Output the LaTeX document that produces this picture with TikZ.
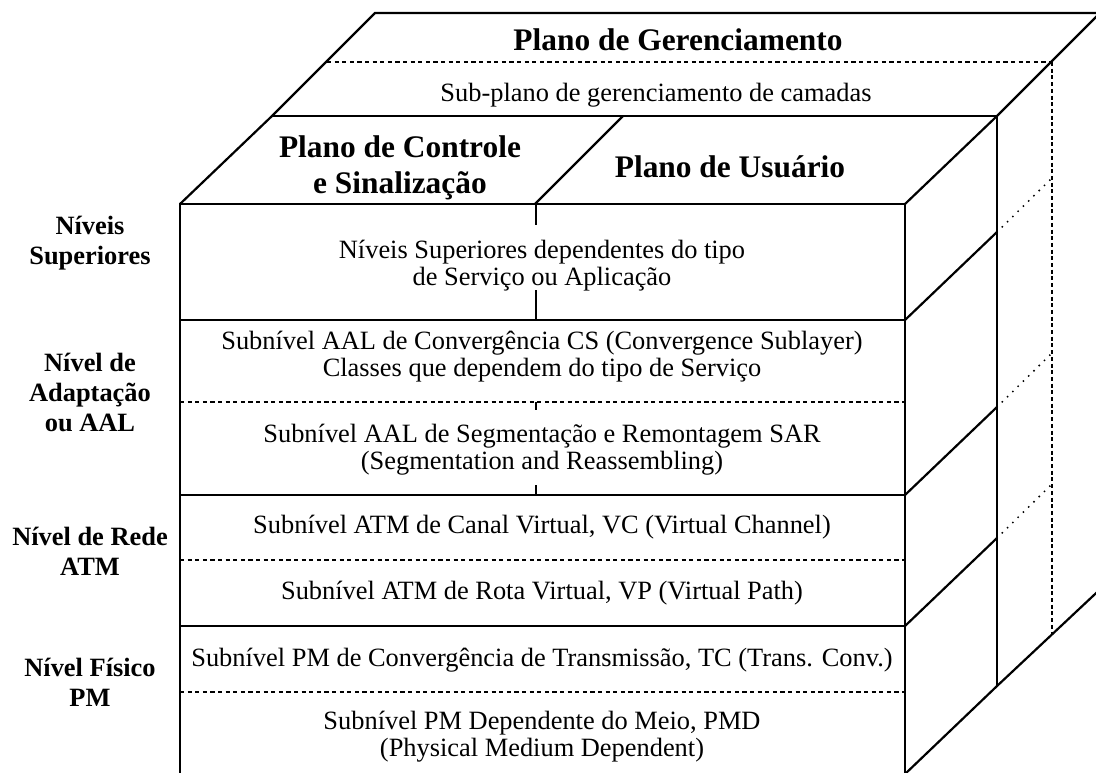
\documentclass[tikz,border=0pt]{standalone}
\usepackage{fontspec}
\setmainfont{Liberation Serif}
\begin{document}
\begin{tikzpicture}[x=0.5pt,y=-0.5pt,
  edge/.style={line width=1.1pt},
  sublayer/.style={line width=0.65pt,dash pattern=on 2.1pt off 1.7pt},
  plane/.style={line width=0.85pt,dash pattern=on 2pt off 1.35pt},
  hidden/.style={line width=1.05pt,line cap=round,dash pattern=on 0pt off 3.7pt},
  title/.style={font=\fontsize{15.7}{18}\selectfont\bfseries,align=center,inner sep=0pt},
  level/.style={font=\fontsize{13.2}{15}\selectfont\bfseries,align=center,inner sep=0pt},
  lab/.style={font=\fontsize{13.2}{13.5}\selectfont,align=center,inner sep=0pt}]
\useasboundingbox (0,0) rectangle (1096,772);
\begin{scope}
\clip (0,0) rectangle (1096,772);
% front face
\draw[edge] (180,774) -- (180,204) -- (905,204) -- (905,774);
\foreach \y in {320,495,626} \draw[edge] (180,\y) -- (905,\y);
\foreach \y in {402,560,692} \draw[sublayer] (180,\y) -- (905,\y);
% what shows of the plane divider
\draw[edge] (536,204) -- (536,225) (536,290) -- (536,320);
\draw[edge] (536,402) -- (536,410) (536,485) -- (536,495);
% top faces
\draw[edge] (180,204) -- (272,116) -- (375,13) -- (1110,13);
\draw[edge] (272,116) -- (997,116);
\draw[edge] (535,204) -- (623,116);
\draw[sublayer] (327,62) -- (1052,62);
% right side
\draw[edge] (905,204) -- (997,116) -- (1110,3);
\draw[edge] (997,116) -- (997,686);
\foreach \y in {320,495,626} {
  \draw[edge] (905,\y) -- ++(92,-88);
  \draw[hidden] (997,\y-88) -- ++(55,-54);
}
\draw[edge] (905,774) -- (997,686) -- (1110,580);
\draw[plane] (1052,62) -- (1052,634);
\end{scope}
% planes
\node[title] (mgmt) at (678,40) {Plano de Gerenciamento};
\node[lab]   (layermgmt) at (656,95) {Sub-plano de gerenciamento de camadas};
\node[title] (ctrl) at (400,168) {Plano de Controle\\e Sinalização};
\node[title] (user) at (730,167) {Plano de Usuário};
% levels
\node[level] (upper) at (90,243) {Níveis\\Superiores};
\node[level] (aal)   at (90,392) {Nível de\\Adaptação\\ou AAL};
\node[level] (atm)   at (90,551) {Nível de Rede\\ATM};
\node[level] (phy)   at (90,682) {Nível Físico\\PM};
% sublevels
\node[lab] (app) at (542,266) {Níveis Superiores dependentes do tipo\\de Serviço ou Aplicação};
\node[lab] (cs)  at (542,357) {Subnível AAL de Convergência CS (Convergence Sublayer)\\Classes que dependem do tipo de Serviço};
\node[lab] (sar) at (542,450) {Subnível AAL de Segmentação e Remontagem SAR\\(Segmentation and Reassembling)};
\node[lab] (vc)  at (542,527) {Subnível ATM de Canal Virtual, VC (Virtual Channel)};
\node[lab] (vp)  at (542,593) {Subnível ATM de Rota Virtual, VP (Virtual Path)};
\node[lab] (tc)  at (542,660) {Subnível PM de Convergência de Transmissão, TC (Trans. Conv.)};
\node[lab] (pmd) at (542,737) {Subnível PM Dependente do Meio, PMD\\(Physical Medium Dependent)};
\end{tikzpicture}
\end{document}
